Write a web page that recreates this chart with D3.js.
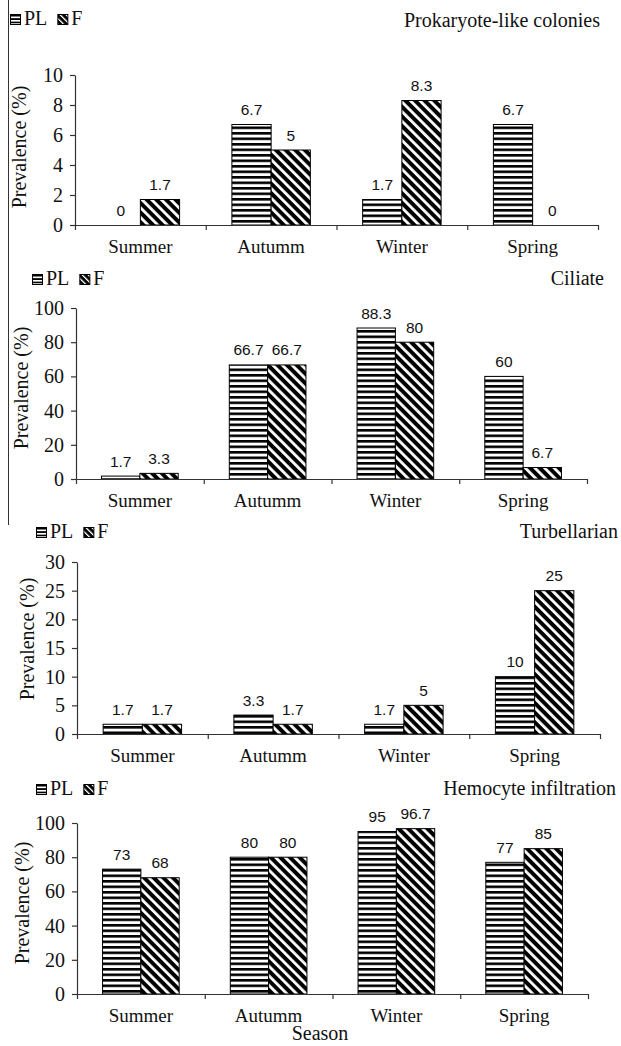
<!DOCTYPE html>
<html>
<head>
<meta charset="utf-8">
<script src="https://cdn.jsdelivr.net/npm/d3@7/dist/d3.min.js"></script>
<style>
  html, body { margin: 0; padding: 0; background: #fff; }
  svg { display: block; }
</style>
</head>
<body>
<svg id="chart" width="621" height="1046"></svg>
<script>
// Seasonal prevalence (%) of four conditions in PL and F groups
const seasons = ["Summer", "Autumm", "Winter", "Spring"];
const seriesNames = ["PL", "F"];

const prokaryotePL = [0, 6.7, 1.7, 6.7];
const prokaryoteF  = [1.7, 5, 8.3, 0];

const ciliatePL = [1.7, 66.7, 88.3, 60];
const ciliateF  = [3.3, 66.7, 80, 6.7];

const turbellarianPL = [1.7, 3.3, 1.7, 10];
const turbellarianF  = [1.7, 1.7, 5, 25];

const hemocytePL = [73, 80, 95, 77];
const hemocyteF  = [68, 80, 96.7, 85];

const titles = ["Prokaryote-like colonies", "Ciliate", "Turbellarian", "Hemocyte infiltration"];
const yMaxes = [10, 100, 30, 100];
const yTickSteps = [2, 20, 5, 20];
const yLabel = "Prevalence (%)";
const xTitle = "Season";

const panelData = [
  [prokaryotePL, prokaryoteF],
  [ciliatePL, ciliateF],
  [turbellarianPL, turbellarianF],
  [hemocytePL, hemocyteF]
];

// Panel geometry
const layout = [
  { ax: 75, y0: 225, yTop: 75,  xEnd: 598, titleY: 27,  titleR: 600, legX: 10, legY: 25,  ylabX: 19, ylabY: 147 },
  { ax: 76, y0: 479, yTop: 308, xEnd: 587, titleY: 285, titleR: 604, legX: 32, legY: 285, ylabX: 21, ylabY: 388 },
  { ax: 77, y0: 734, yTop: 562, xEnd: 600, titleY: 538, titleR: 618, legX: 36, legY: 538, ylabX: 27, ylabY: 639 },
  { ax: 77, y0: 994, yTop: 823, xEnd: 588, titleY: 795, titleR: 616, legX: 36, legY: 795, ylabX: 22, ylabY: 903 }
];

const serif = "'Liberation Serif', 'Times New Roman', serif";
const sans = "'Liberation Sans', Arial, sans-serif";

const svg = d3.select("#chart");
const defs = svg.append("defs");

// Fill patterns: horizontal stripes (PL) and backslash diagonal stripes (F)
function hStripes(id, period, black) {
  const p = defs.append("pattern").attr("id", id)
    .attr("patternUnits", "userSpaceOnUse")
    .attr("width", 10).attr("height", period);
  p.append("rect").attr("width", 10).attr("height", period).attr("fill", "#fff");
  p.append("rect").attr("width", 10).attr("height", black).attr("fill", "#000");
}
function dStripes(id, period, black) {
  const p = defs.append("pattern").attr("id", id)
    .attr("patternUnits", "userSpaceOnUse")
    .attr("width", 10).attr("height", period)
    .attr("patternTransform", "rotate(45)");
  p.append("rect").attr("width", 10).attr("height", period).attr("fill", "#fff");
  p.append("rect").attr("width", 10).attr("height", black).attr("fill", "#000");
}
hStripes("patPL", 5.5, 2.6);
dStripes("patF", 6.8, 4.0);
hStripes("patPLsmall", 3.4, 1.7);
dStripes("patFsmall", 4.2, 2.9);
const fills = ["url(#patPL)", "url(#patF)"];
const legendFills = ["url(#patPLsmall)", "url(#patFsmall)"];

// Frame line down the left edge of the upper panels
svg.append("line")
  .attr("x1", 8.5).attr("x2", 8.5).attr("y1", 0).attr("y2", 525)
  .attr("stroke", "#333").attr("stroke-width", 1);

panelData.forEach((series, i) => {
  const L = layout[i];
  const g = svg.append("g");

  const x = d3.scaleBand().domain(seasons).range([L.ax, L.xEnd]).padding(0);
  const xs = d3.scaleBand().domain(seriesNames)
    .range([x.bandwidth() * 0.2, x.bandwidth() * 0.8]).padding(0);
  const y = d3.scaleLinear().domain([0, yMaxes[i]]).range([L.y0, L.yTop]);

  // Bars
  const rows = seasons.map((s, k) => ({ season: s, values: seriesNames.map((n, j) => ({ name: n, idx: j, v: series[j][k] })) }));
  const groups = g.selectAll("g.grp").data(rows).join("g")
    .attr("transform", d => `translate(${x(d.season)},0)`);

  groups.selectAll("rect").data(d => d.values.filter(e => e.v > 0)).join("rect")
    .attr("x", e => xs(e.name))
    .attr("y", e => y(e.v))
    .attr("width", xs.bandwidth())
    .attr("height", e => y(0) - y(e.v))
    .attr("fill", e => fills[e.idx])
    .attr("stroke", "#000")
    .attr("stroke-width", 1);

  // Value labels
  groups.selectAll("text.val").data(d => d.values).join("text")
    .attr("class", "val")
    .attr("x", e => xs(e.name) + xs.bandwidth() / 2)
    .attr("y", e => y(e.v) - 9.5)
    .attr("text-anchor", "middle")
    .attr("font-family", sans)
    .attr("font-size", 15.5)
    .attr("fill", "#111")
    .text(e => String(e.v));

  // Y axis
  const yAxis = d3.axisLeft(y)
    .tickValues(d3.range(0, yMaxes[i] + 0.001, yTickSteps[i]))
    .tickSize(5).tickSizeOuter(0).tickPadding(7)
    .tickFormat(d3.format("d"));
  const ya = g.append("g").attr("transform", `translate(${L.ax},0)`).call(yAxis);
  ya.selectAll("text").attr("font-family", serif).attr("font-size", 20).attr("fill", "#111");

  // X axis: boundary ticks and season labels
  const xb = d3.scaleLinear().domain([0, seasons.length]).range([L.ax, L.xEnd]);
  g.append("g").attr("transform", `translate(0,${L.y0})`)
    .call(d3.axisBottom(xb).tickValues(d3.range(0, seasons.length + 1)).tickFormat("").tickSize(5).tickSizeOuter(0));
  const xa = g.append("g").attr("transform", `translate(0,${L.y0})`)
    .call(d3.axisBottom(x).tickSize(0).tickSizeOuter(0));
  xa.select(".domain").remove();
  xa.selectAll("text").attr("dy", null).attr("y", 28)
    .attr("font-family", serif).attr("font-size", 19).attr("fill", "#111");

  g.selectAll(".domain, .tick line").attr("stroke", "#333").attr("stroke-width", 1.2);

  // Y axis title
  g.append("text")
    .attr("transform", `translate(${L.ylabX},${L.ylabY}) rotate(-90)`)
    .attr("text-anchor", "middle")
    .attr("dy", "0.35em")
    .attr("font-family", serif).attr("font-size", 20).attr("fill", "#111")
    .text(yLabel);

  // Panel title
  g.append("text")
    .attr("x", L.titleR).attr("y", L.titleY)
    .attr("text-anchor", "end")
    .attr("font-family", serif).attr("font-size", 20).attr("fill", "#111")
    .text(titles[i]);

  // Legend
  const leg = g.append("g").attr("transform", `translate(${L.legX},${L.legY})`);
  let cx = 0;
  seriesNames.forEach((n, j) => {
    leg.append("rect").attr("x", cx + 0.5).attr("y", -10.5).attr("width", 10).attr("height", 10)
      .attr("fill", legendFills[j]).attr("stroke", "#000").attr("stroke-width", 1);
    const t = leg.append("text").attr("x", cx + 14).attr("y", 0)
      .attr("font-family", serif).attr("font-size", 20).attr("fill", "#111").text(n);
    cx += 14 + t.node().getComputedTextLength() + 10;
  });
});

// Shared x-axis title
svg.append("text")
  .attr("x", 320).attr("y", 1040)
  .attr("text-anchor", "middle")
  .attr("font-family", serif).attr("font-size", 20).attr("fill", "#111")
  .text(xTitle);
</script>
</body>
</html>
